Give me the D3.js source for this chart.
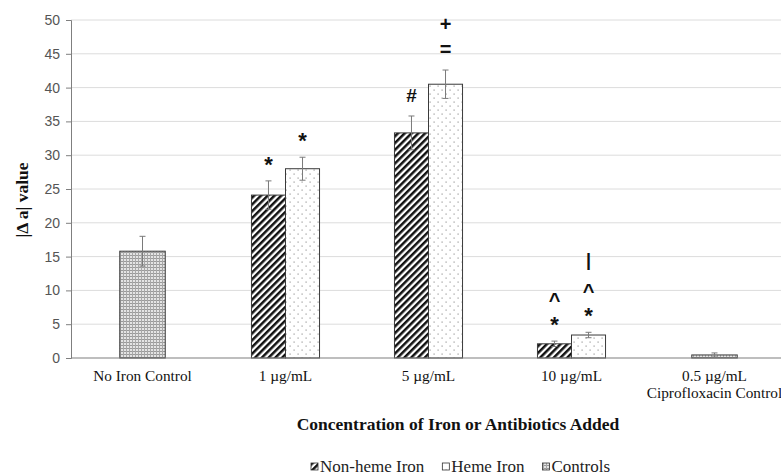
<!DOCTYPE html>
<html>
<head>
<meta charset="utf-8">
<script src="https://cdn.jsdelivr.net/npm/d3@7"></script>
<style>
  body { margin: 0; background: #fff; }
  svg { display: block; }
</style>
</head>
<body>
<svg id="chart" width="781" height="476"></svg>
<script>
// chart values
const categories = ["No Iron Control", "1 µg/mL", "5 µg/mL", "10 µg/mL", "0.5 µg/mL|Ciprofloxacin Control"];
const nonHeme    = [null, 24.1, 33.3, 2.1, null];
const nonHemeErr = [null, 2.1, 2.5, 0.4, null];
const heme       = [null, 28.0, 40.5, 3.4, null];
const hemeErr    = [null, 1.7, 2.1, 0.4, null];
const controls    = [15.8, null, null, null, 0.45];
const controlsErr = [2.2, null, null, null, 0.3];
const nonHemeMarks = [[], ["*"], ["#"], ["*", "^"], []];
const hemeMarks    = [[], ["*"], ["=", "+"], ["*", "^", "|"], []];
const yTicks = [0, 5, 10, 15, 20, 25, 30, 35, 40, 45, 50];
const legendItems = ["Non-heme Iron", "Heme Iron", "Controls"];

const svg = d3.select("#chart");

const x = d3.scaleBand()
    .domain(categories)
    .range([71, 786]);

const y = d3.scaleLinear()
    .domain([0, 50])
    .range([358, 20]);

// patterns
const defs = svg.append("defs");

const stripes = defs.append("pattern")
    .attr("id", "stripes")
    .attr("patternUnits", "userSpaceOnUse")
    .attr("width", 4.8).attr("height", 4.8)
    .attr("patternTransform", "rotate(45)");
stripes.append("rect").attr("width", 4.8).attr("height", 4.8).attr("fill", "#fff");
stripes.append("rect").attr("width", 2.5).attr("height", 4.8).attr("fill", "#111");

const dots = defs.append("pattern")
    .attr("id", "dots")
    .attr("patternUnits", "userSpaceOnUse")
    .attr("width", 8).attr("height", 8);
dots.append("rect").attr("width", 8).attr("height", 8).attr("fill", "#fff");
dots.append("rect").attr("x", 1.5).attr("y", 1.5).attr("width", 1.2).attr("height", 1.2).attr("fill", "#999");
dots.append("rect").attr("x", 5.5).attr("y", 5.5).attr("width", 1.2).attr("height", 1.2).attr("fill", "#999");

const grid = defs.append("pattern")
    .attr("id", "grid")
    .attr("patternUnits", "userSpaceOnUse")
    .attr("width", 3).attr("height", 3);
grid.append("rect").attr("width", 3).attr("height", 3).attr("fill", "#e4e4e4");
grid.append("rect").attr("width", 3).attr("height", 1).attr("fill", "#9a9a9a");
grid.append("rect").attr("width", 1).attr("height", 3).attr("fill", "#a8a8a8");

// gridlines
svg.append("g")
    .selectAll("line")
    .data(yTicks.filter(d => d > 0))
    .join("line")
    .attr("x1", 71).attr("x2", 781)
    .attr("y1", d => y(d)).attr("y2", d => y(d))
    .attr("stroke", "#dcdcdc")
    .attr("stroke-width", 1);

// y axis
const yAxis = svg.append("g")
    .attr("transform", "translate(71,0)")
    .call(d3.axisLeft(y).tickValues(yTicks).tickSize(5).tickPadding(6));
yAxis.select(".domain").attr("stroke", "#7f7f7f");
yAxis.selectAll(".tick line").attr("stroke", "#7f7f7f");
yAxis.selectAll(".tick text")
    .attr("fill", "#555")
    .attr("font-family", "Liberation Sans, Arial, sans-serif")
    .attr("font-size", "14px");

// bars
const bw = x.bandwidth() * 0.238;
const cw = x.bandwidth() * 0.318;

const series = [
    { vals: nonHeme, errs: nonHemeErr, marks: nonHemeMarks, fill: "url(#stripes)", off: -bw, w: bw },
    { vals: heme, errs: hemeErr, marks: hemeMarks, fill: "url(#dots)", off: 0, w: bw },
    { vals: controls, errs: controlsErr, marks: null, fill: "url(#grid)", off: -cw / 2, w: cw }
];

const cx = c => x(c) + x.bandwidth() / 2;
const glyphShift = { "*": 12, "#": 7, "=": 7, "+": 7, "^": 12, "|": 5 };
const glyphSize = { "*": 22, "#": 19, "=": 20, "+": 20, "^": 20, "|": 18 };

series.forEach(s => {
    const rows = categories.map((c, i) => ({ c, v: s.vals[i], e: s.errs[i], m: s.marks ? s.marks[i] : [] }))
        .filter(d => d.v != null);

    svg.append("g").selectAll("rect")
        .data(rows)
        .join("rect")
        .attr("x", d => cx(d.c) + s.off)
        .attr("y", d => y(d.v))
        .attr("width", s.w)
        .attr("height", d => y(0) - y(d.v))
        .attr("fill", s.fill)
        .attr("stroke", "#3a3a3a")
        .attr("stroke-width", 1);

    // error bars
    const eb = svg.append("g").attr("stroke", "#7a7a7a").attr("stroke-width", 1);
    rows.forEach(d => {
        const mx = cx(d.c) + s.off + s.w / 2;
        eb.append("line").attr("x1", mx).attr("x2", mx).attr("y1", y(d.v - d.e)).attr("y2", y(d.v + d.e));
        eb.append("line").attr("x1", mx - 3).attr("x2", mx + 3).attr("y1", y(d.v + d.e)).attr("y2", y(d.v + d.e));
        eb.append("line").attr("x1", mx - 3).attr("x2", mx + 3).attr("y1", y(d.v - d.e)).attr("y2", y(d.v - d.e));
    });

    // significance marks stacked above the error bars
    rows.forEach(d => {
        const mx = cx(d.c) + s.off + s.w / 2;
        d.m.forEach((g, k) => {
            const cy = y(d.v + d.e) - 21 - k * 25;
            svg.append("text")
                .attr("x", mx)
                .attr("y", cy + glyphShift[g])
                .attr("text-anchor", "middle")
                .attr("font-family", "Liberation Sans, Arial, sans-serif")
                .attr("font-size", glyphSize[g] + "px")
                .attr("font-weight", "bold")
                .attr("fill", "#111")
                .text(g);
        });
    });
});

// x axis line
svg.append("line")
    .attr("x1", 71).attr("x2", 781)
    .attr("y1", y(0)).attr("y2", y(0))
    .attr("stroke", "#7f7f7f")
    .attr("stroke-width", 1.2);

// category labels
svg.append("g").selectAll("text")
    .data(categories)
    .join("text")
    .attr("x", d => cx(d))
    .attr("y", 381)
    .attr("text-anchor", "middle")
    .attr("font-family", "Liberation Serif, Times New Roman, serif")
    .attr("font-size", "15.3px")
    .attr("fill", "#111")
    .each(function(d) {
        const t = d3.select(this);
        d.split("|").forEach((p, k) => {
            t.append("tspan").attr("x", cx(d)).attr("dy", k === 0 ? 0 : 16.5).text(p);
        });
    });

// axis titles
svg.append("text")
    .attr("x", 458).attr("y", 430)
    .attr("text-anchor", "middle")
    .attr("font-family", "Liberation Serif, Times New Roman, serif")
    .attr("font-size", "17.5px")
    .attr("font-weight", "bold")
    .attr("fill", "#111")
    .text("Concentration of Iron or Antibiotics Added");

svg.append("text")
    .attr("transform", "translate(28,200) rotate(-90)")
    .attr("text-anchor", "middle")
    .attr("font-family", "Liberation Serif, Times New Roman, serif")
    .attr("font-size", "17.5px")
    .attr("font-weight", "bold")
    .attr("fill", "#111")
    .text("|Δ a| value");

// legend
const legendFills = ["url(#stripes)", "url(#dots)", "url(#grid)"];
const legend = svg.append("g");
let lx = 311;
legendItems.forEach((name, i) => {
    legend.append("rect")
        .attr("x", lx).attr("y", 463)
        .attr("width", 7).attr("height", 7)
        .attr("fill", legendFills[i])
        .attr("stroke", "#333")
        .attr("stroke-width", 0.8);
    const t = legend.append("text")
        .attr("x", lx + 9).attr("y", 472)
        .attr("font-family", "Liberation Serif, Times New Roman, serif")
        .attr("font-size", "17px")
        .attr("fill", "#222")
        .text(name);
    lx += 9 + t.node().getComputedTextLength() + 18;
});
</script>
</body>
</html>
